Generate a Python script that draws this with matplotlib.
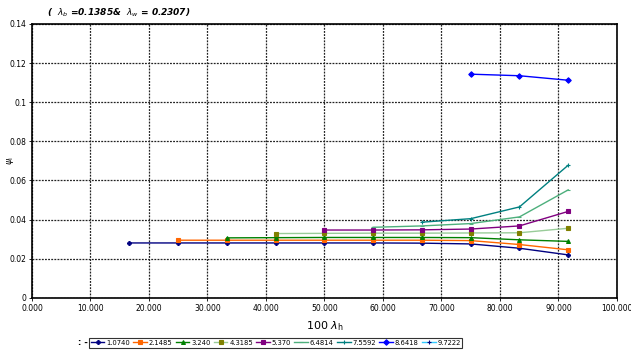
import numpy as np
import matplotlib.pyplot as plt

# valeurs
x_pts = [16.667, 25.0, 33.333, 41.667, 50.0, 58.333, 66.667, 75.0, 83.333, 91.667]
labels = ['1.0740', '2.1485', '3.240', '4.3185', '5.370', '6.4814', '7.5592', '8.6418', '9.7222']

s1 = [0.0281, 0.0281, 0.0281, 0.0281, 0.0281, 0.0281, 0.0280, 0.0276, 0.0254, 0.0220]
s2 = [0.0295, 0.0295, 0.0295, 0.0295, 0.0295, 0.0295, 0.0293, 0.0273, 0.0246]
s3 = [0.0307, 0.0308, 0.0309, 0.0309, 0.0309, 0.0308, 0.0297, 0.0289]
s4 = [0.0329, 0.0330, 0.0331, 0.0331, 0.0332, 0.0333, 0.0356]
s5 = [0.0347, 0.0347, 0.0348, 0.0352, 0.0368, 0.0442]
s6 = [0.0361, 0.0368, 0.0380, 0.0414, 0.0552]
s7 = [0.0387, 0.0405, 0.0465, 0.0678]
s8 = [0.1143, 0.1135, 0.1112]
s9 = []

series = [s1, s2, s3, s4, s5, s6, s7, s8, s9]
colors = ['#000080', '#FF6600', '#008000', '#99CC99', '#800080', '#4DAF7C', '#008080', '#0000FF', '#33CCFF']
mcolors = ['#000080', '#FF6600', '#008000', '#808000', '#800080', '#4DAF7C', '#008080', '#0000FF', '#000080']
markers = ['P', 's', '^', 's', 's', '_', '+', 'D', '+']

fig = plt.figure(figsize=(6.31, 3.56), dpi=100)
ax = fig.add_axes([0.0507, 0.163, 0.927, 0.77])

for s, lab, c, mc, m in zip(series, labels, colors, mcolors, markers):
    xs = x_pts[len(x_pts) - len(s):]
    ax.plot(xs, s, color=c, lw=1.0, marker=m, ms=2.8, mfc=mc, mec=mc, mew=0.8, label=lab)

ax.set_xlim(0, 100)
ax.set_ylim(0, 0.14)
ax.set_xticks(np.arange(0, 101, 10))
ax.set_xticklabels([f'{v:.3f}' for v in np.arange(0, 101, 10)])
ax.set_yticks(np.arange(0, 0.141, 0.02))
ax.set_yticklabels(['0', '0.02', '0.04', '0.06', '0.08', '0.1', '0.12', '0.14'])
ax.tick_params(labelsize=5.5, length=2, width=0.6, pad=2)
ax.grid(True, color='#222222', linestyle=(0, (1.5, 1)), lw=0.9)
for sp in ax.spines.values():
    sp.set_linewidth(1.2)

fig.text(11 / 631, 0.55, r'$\psi_{\rm i}$', fontsize=6.5, rotation=90, ha='center', va='center')
ax.set_xlabel(r'$\it{100}$ $\lambda_{\rm h}$', fontsize=8, labelpad=5)

fig.text(0.075, 0.965, r'(  $\lambda_b$ =0.1385&  $\lambda_w$ = 0.2307)',
         fontsize=6.5, fontweight='bold', fontstyle='italic', ha='left', va='center')

leg = fig.legend(loc='center', bbox_to_anchor=(0.437, 0.037), ncol=9, fontsize=4.9,
                 frameon=True, fancybox=False, edgecolor='black', handlelength=2.0,
                 columnspacing=0.5, handletextpad=0.25, borderpad=0.25)
leg.get_frame().set_linewidth(0.8)
fig.text(0.14, 0.037, ': -', fontsize=6, fontweight='bold', ha='right', va='center')

plt.savefig('out.png', dpi=100)
